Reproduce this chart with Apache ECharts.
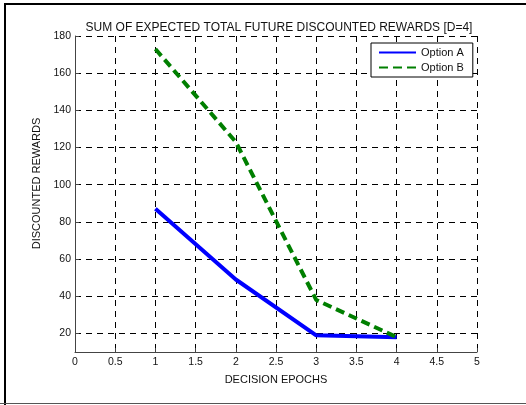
<!DOCTYPE html>
<html>
<head>
<meta charset="utf-8">
<script src="https://cdn.jsdelivr.net/npm/echarts@6/dist/echarts.min.js"></script>
<style>
  html, body { margin: 0; padding: 0; background: #fff; }
  #chart { width: 526px; height: 405px; }
</style>
</head>
<body>
<div id="chart"></div>
<script>
// Decision epochs and discounted reward sums for each option
const epochs = [1, 2, 3, 4];
const optionA = [87, 49, 19, 18];
const optionB = [173, 123, 38, 18];
const yTicks = [20, 40, 60, 80, 100, 120, 140, 160, 180];

const FONT = '"Liberation Sans", Arial, sans-serif';
const gridDash = { color: '#000', width: 1, type: [6, 5] };

const chart = echarts.init(document.getElementById('chart'), null, { renderer: 'canvas' });

chart.setOption({
  animation: false,
  backgroundColor: '#fff',
  textStyle: { fontFamily: FONT },
  title: {
    text: 'SUM OF EXPECTED TOTAL FUTURE DISCOUNTED REWARDS [D=4]',
    left: 274,
    top: 17,
    textAlign: 'center',
    textStyle: { fontFamily: FONT, fontSize: 12, fontWeight: 'normal', color: '#111' }
  },
  grid: { left: 75, right: 49, top: 36, bottom: 53, containLabel: false },
  legend: {
    orient: 'vertical',
    left: 371,
    top: 43,
    padding: [4, 9, 4, 7],
    itemWidth: 37,
    itemHeight: 12,
    itemGap: 4,
    backgroundColor: '#fff',
    borderColor: '#000',
    borderWidth: 1,
    // keep only the line sample in each legend entry
    itemStyle: { opacity: 0 },
    textStyle: { fontFamily: FONT, fontSize: 11, color: '#111' },
    data: ['Option A', 'Option B']
  },
  xAxis: {
    type: 'value',
    min: 0,
    max: 5,
    interval: 0.5,
    name: 'DECISION EPOCHS',
    nameLocation: 'middle',
    nameGap: 22,
    nameTextStyle: { fontFamily: FONT, fontSize: 11, color: '#111' },
    axisLine: { onZero: false, lineStyle: { color: '#444', width: 1 } },
    axisTick: { inside: true, length: 4, lineStyle: { color: '#444' } },
    axisLabel: { fontFamily: FONT, fontSize: 10.5, color: '#111', margin: 5 },
    splitLine: { show: true, lineStyle: gridDash }
  },
  yAxis: {
    type: 'value',
    min: 10,
    max: 180,
    name: 'DISCOUNTED REWARDS',
    nameLocation: 'middle',
    nameGap: 33,
    nameTextStyle: { fontFamily: FONT, fontSize: 11, color: '#111', padding: [0, 0, 0, 21] },
    axisLine: { show: true, lineStyle: { color: '#444', width: 1 } },
    axisTick: { show: true, inside: true, length: 4, customValues: yTicks, lineStyle: { color: '#444' } },
    axisLabel: { fontFamily: FONT, fontSize: 10.5, color: '#111', margin: 4, customValues: yTicks },
    splitLine: { show: true, lineStyle: gridDash }
  },
  series: [
    {
      name: 'Option A',
      type: 'line',
      data: epochs.map((x, i) => [x, optionA[i]]),
      symbol: 'none',
      color: '#0000ff',
      lineStyle: { color: '#0000ff', width: 4 },
      z: 3
    },
    {
      name: 'Option B',
      type: 'line',
      data: epochs.map((x, i) => [x, optionB[i]]),
      symbol: 'none',
      color: '#007f00',
      lineStyle: { color: '#007f00', width: 4, type: [9, 5] },
      z: 4
    }
  ],
  graphic: [
    { type: 'line', silent: true, shape: { x1: 5, y1: 3, x2: 5, y2: 405 }, style: { stroke: '#000', lineWidth: 2 } },
    { type: 'line', silent: true, shape: { x1: 4, y1: 4, x2: 526, y2: 4 }, style: { stroke: '#000', lineWidth: 2 } },
    { type: 'line', silent: true, shape: { x1: 0, y1: 403.5, x2: 526, y2: 403.5 }, style: { stroke: '#555', lineWidth: 1 } }
  ]
});
</script>
</body>
</html>
